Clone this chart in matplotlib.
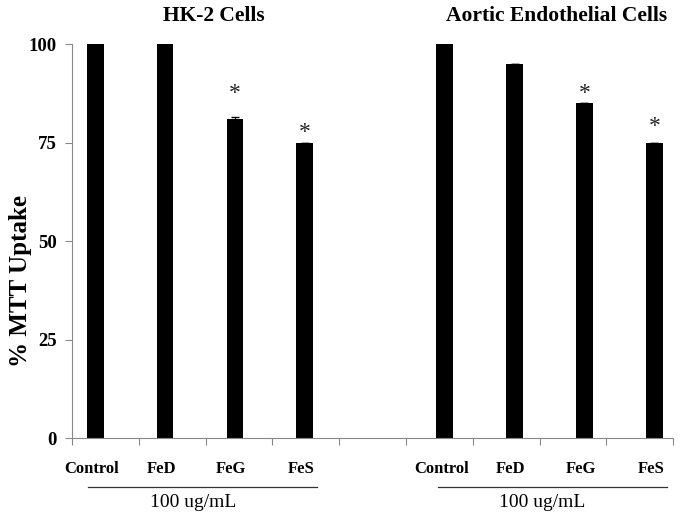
import matplotlib
matplotlib.use("Agg")
import matplotlib.pyplot as plt
import numpy as np

plt.rcParams['font.family'] = ['Liberation Serif', 'DejaVu Serif']

# MTT uptake per treatment, two cell lines
treatments = ["Control", "FeD", "FeG", "FeS"]
hk2_values = [100, 100, 81, 75]
hk2_err = [0, 0, 0.4, 0]
aortic_values = [100, 95, 85, 75]
aortic_err = [0, 0, 0, 0]
# asterisk heights (significant vs control)
hk2_star = [None, None, 87.5, 77.5]
aortic_star = [None, None, 87.5, 79]

group_titles = ["HK-2 Cells", "Aortic Endothelial Cells"]
dose_label = "100 ug/mL"
y_ticks = [0, 25, 50, 75, 100]

fig = plt.figure(figsize=(6.8, 5.21), dpi=100)
ax = fig.add_axes([0.106, 0.159, 0.884, 0.7565])

x_left = np.arange(4)
x_right = np.arange(4) + 5
bar_w = 0.24

ax.bar(x_left, hk2_values, width=bar_w, color="black", yerr=hk2_err,
       error_kw=dict(ecolor="black", capsize=3, lw=0.8))
ax.bar(x_right, aortic_values, width=bar_w, color="black", yerr=aortic_err,
       error_kw=dict(ecolor="black", capsize=3, lw=0.8))

for xs, stars in [(x_left, hk2_star), (x_right, aortic_star)]:
    for x, s in zip(xs, stars):
        if s is not None:
            ax.text(x, s, "*", ha="center", va="center", fontsize=17, color="#222222")

ax.set_xlim(-0.33, 8.27)
ax.set_ylim(0, 100)
ax.set_yticks(y_ticks)
ax.set_yticklabels([str(t) for t in y_ticks], fontsize=13.5, fontweight="bold")

# category boundary ticks, 9 even slots along the axis
bounds = np.linspace(-0.33, 8.27, 10)
ax.set_xticks(bounds)
ax.set_xticklabels([])
ax.tick_params(axis="x", length=5, color="#888888", width=0.8)
ax.tick_params(axis="y", length=5, color="#888888", width=0.8, pad=6)

for side in ["top", "right"]:
    ax.spines[side].set_visible(False)
for side in ["left", "bottom"]:
    ax.spines[side].set_color("#888888")
    ax.spines[side].set_linewidth(0.8)

ax.set_ylabel("% MTT Uptake", fontsize=18, fontweight="bold")
ax.yaxis.set_label_coords(-0.066, 0.40)

trans = ax.get_xaxis_transform()
for xs in (x_left, x_right):
    for x, name in zip(xs, treatments):
        ax.text(x - 0.05, -0.078, name, transform=trans, ha="center", va="center",
                fontsize=12, fontweight="bold")
    ax.plot([xs[0] - 0.1, xs[-1] + 0.18], [-0.125, -0.125], transform=trans,
            color="#333333", lw=0.9, clip_on=False)
    ax.text((xs[0] + xs[-1]) / 2 - 0.1, -0.162, dose_label, transform=trans,
            ha="center", va="center", fontsize=14)

ax.text(1.7, 1.07, group_titles[0], transform=trans, ha="center", va="center",
        fontsize=15.5, fontweight="bold")
ax.text(6.6, 1.07, group_titles[1], transform=trans, ha="center", va="center",
        fontsize=15.5, fontweight="bold")

fig.savefig("out.png", dpi=100)
